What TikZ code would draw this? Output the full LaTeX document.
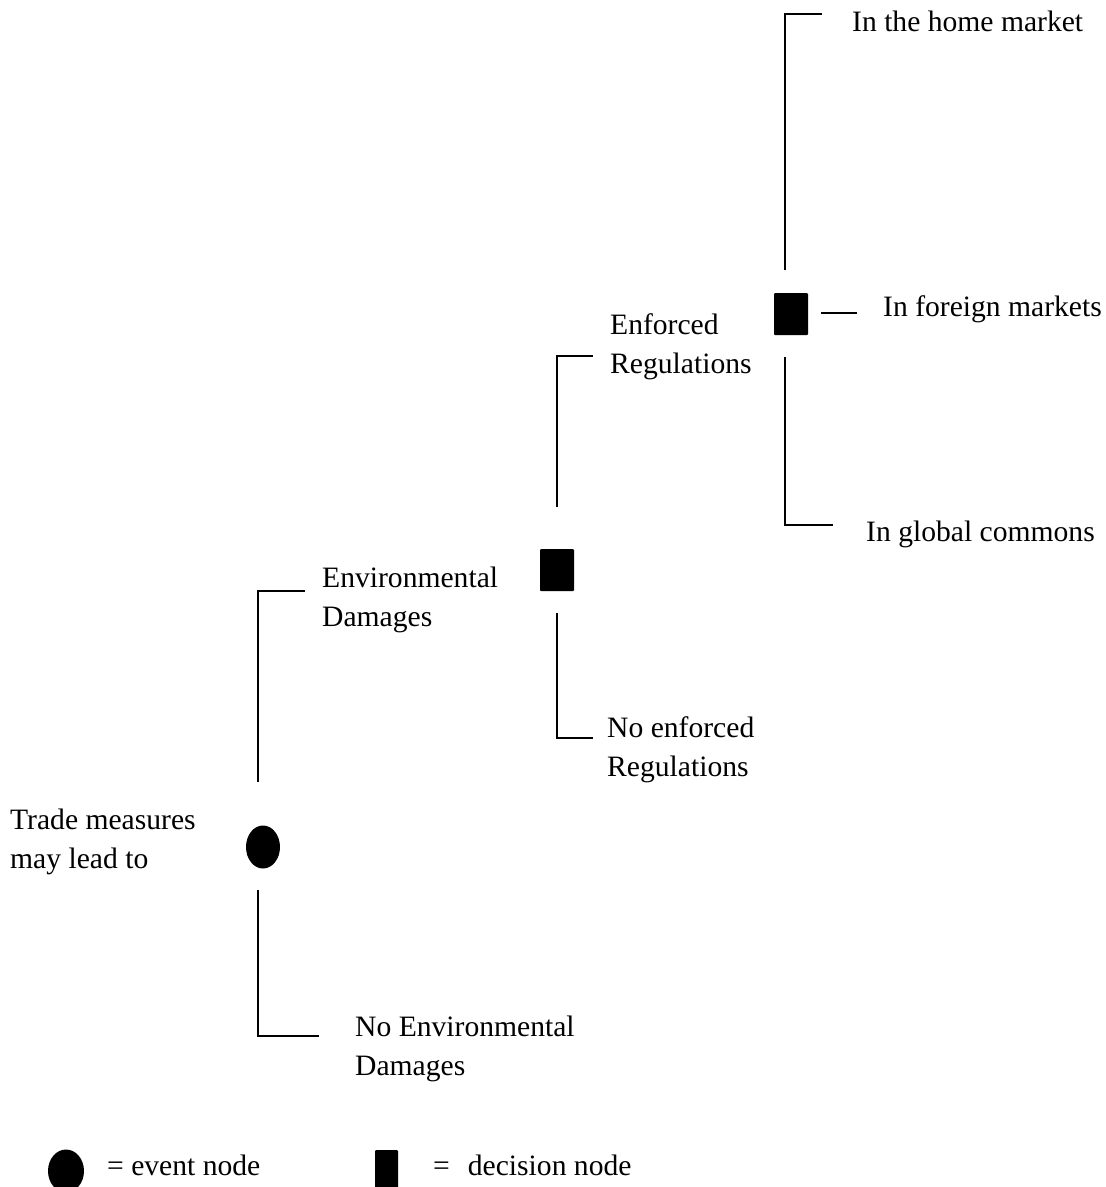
\documentclass[tikz,border=0pt]{standalone}
\usepackage{fontspec}
\setmainfont{Liberation Serif}
\usetikzlibrary{shapes.geometric}
\newcommand\twoline[2]{\begin{tabular}[t]{@{}l@{}}#1\\#2\end{tabular}}
\begin{document}
\begin{tikzpicture}[x=1pt,y=-1pt,
  lbl/.style={anchor=base west, inner sep=0pt, font=\fontsize{29.6}{39}\selectfont},
  event/.style={ellipse, fill=black, inner sep=0pt, minimum width=34pt, minimum height=43pt},
  decision/.style={rectangle, fill=black, inner sep=0pt, minimum width=34pt, minimum height=42pt, rounded corners=1pt},
  branch/.style={draw=black, line width=1.8pt}]
\useasboundingbox (0,0) rectangle (1106,1187);
% nodes of the tree
\node[event] (e0) at (263,847) {};
\node[decision] (d1) at (557,570) {};
\node[decision] (d2) at (791,314) {};
% labels
\node[lbl] (trade) at (10,829) {\twoline{Trade measures}{may lead to}};
\node[lbl] (env) at (322,587) {\twoline{Environmental}{Damages}};
\node[lbl] (noenv) at (355,1036) {\twoline{No Environmental}{Damages}};
\node[lbl] (enf) at (610,334) {\twoline{Enforced}{Regulations}};
\node[lbl] (noenf) at (607,737) {\twoline{No enforced}{Regulations}};
\node[lbl] (home) at (852,31) {In the home market};
\node[lbl] (foreign) at (883,316) {In foreign markets};
\node[lbl] (global) at (866,541) {In global commons};
% branch end points
\coordinate (e0u) at (258,782);  \coordinate (e0ue) at (305,591);
\coordinate (e0l) at (258,890);  \coordinate (e0le) at (319,1036);
\coordinate (d1u) at (557,507);  \coordinate (d1ue) at (593,356);
\coordinate (d1l) at (557,613);  \coordinate (d1le) at (593,738);
\coordinate (d2u) at (785,270);  \coordinate (d2ue) at (822,14);
\coordinate (d2r) at (821,313);  \coordinate (d2re) at (857,313);
\coordinate (d2l) at (785,357);  \coordinate (d2le) at (833,525);
% branches
\draw[branch] (e0u) |- (e0ue);
\draw[branch] (e0l) |- (e0le);
\draw[branch] (d1u) |- (d1ue);
\draw[branch] (d1l) |- (d1le);
\draw[branch] (d2u) |- (d2ue);
\draw[branch] (d2r) -- (d2re);
\draw[branch] (d2l) |- (d2le);
% legend
\node[event, minimum width=36pt] (lev) at (66,1171) {};
\node[lbl] (levt) at (107,1175) {= event node};
\node[decision, minimum width=23pt] (ldc) at (386.5,1171) {};
\node[lbl] (ldct) at (433,1175) {=\hspace{18pt}decision node};
\end{tikzpicture}
\end{document}
